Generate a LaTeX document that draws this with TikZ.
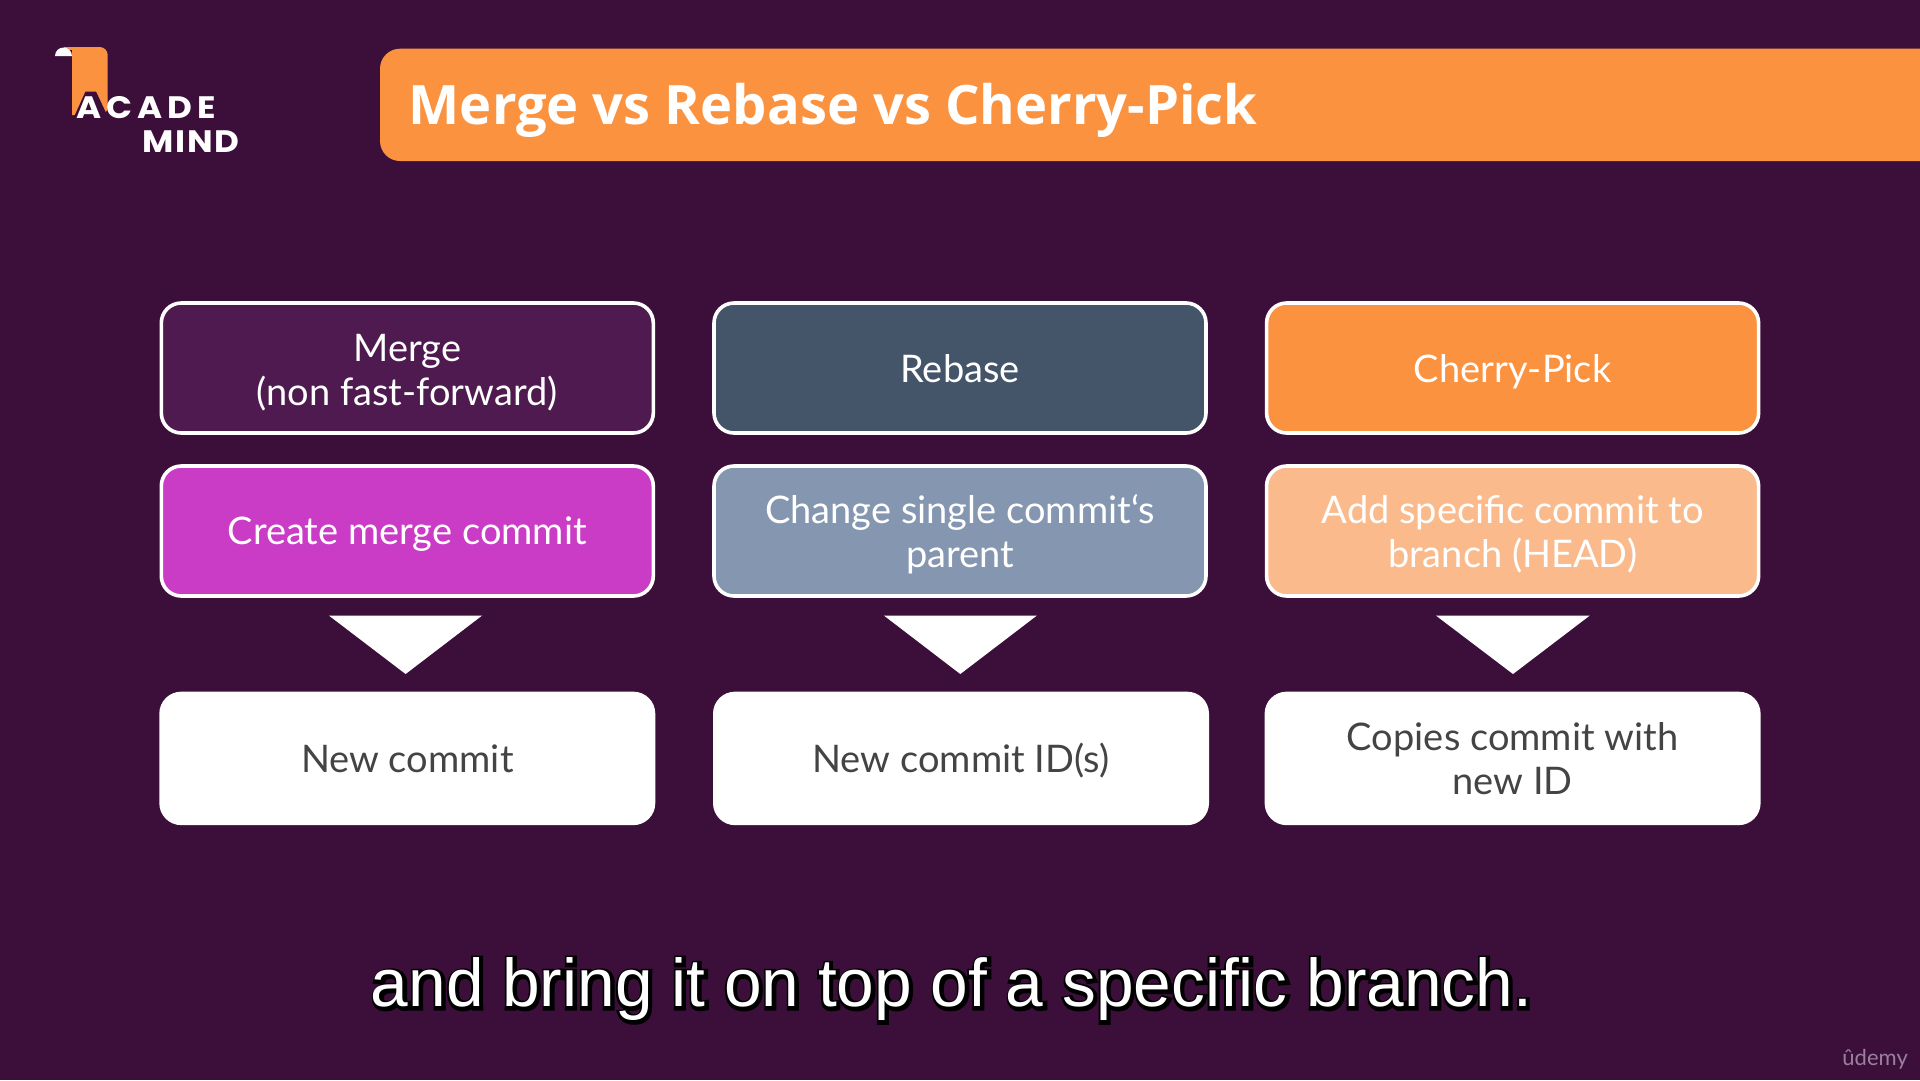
\documentclass[tikz,border=0pt]{standalone}
\usepackage{fontspec}
\setmainfont{Lato}
\newfontfamily\titlefont{Open Sans}
\newfontfamily\logofonta[LetterSpace=16,FakeStretch=1.1]{Poppins}
\newfontfamily\logofontb[LetterSpace=6,FakeStretch=1.1]{Poppins}
\newfontfamily\subfont{Liberation Sans}
\definecolor{bgc}{HTML}{3C0F3B}
\definecolor{orangec}{HTML}{FB923F}
\definecolor{mergec}{HTML}{4E1A50}
\definecolor{magc}{HTML}{CA3CC5}
\definecolor{slatec}{HTML}{455569}
\definecolor{bluec}{HTML}{8496B0}
\definecolor{peachc}{HTML}{FBBA8B}
\definecolor{txtc}{HTML}{444444}
\definecolor{udc}{HTML}{9A7F9E}
\newcommand{\outlined}[1]{\rlap{\kern1pt\raisebox{-1pt}{\special{pdf:code q 6 w 0 0 0 RG 0 0 0 rg 2 Tr}\color{black}#1\special{pdf:code Q}}}#1}
\tikzset{
 x=1pt,y=-1pt,
 vstrut/.style={execute at begin node={\rule[-8pt]{0pt}{\dimexpr#1pt+8pt\relax}}},
 card/.style={draw=white,line width=3.6pt,rounded corners=20pt,minimum width=492pt,minimum height=130pt,inner sep=0pt,align=center,text=white,font=\fontsize{38}{43.5}\selectfont,vstrut=35.4},
 toprow/.style={vstrut=37.4},
 twolines/.style={vstrut=80},
 result/.style={fill=white,rounded corners=22pt,minimum width=496pt,minimum height=133.5pt,inner sep=0pt,align=center,text=txtc,font=\fontsize{38}{43.5}\selectfont,vstrut=35.4},
}
\begin{document}
\begin{tikzpicture}
\useasboundingbox (0,0) rectangle (1920,1080);
\fill[bgc] (0,0) rectangle (1920,1080);
% logo
\fill[orangec,rounded corners=8pt] (60,47) -- (107.7,47) -- (107.7,115) [sharp corners] -- (72,115) -- (72,47) -- cycle;
\fill[bgc] (45,47) rectangle (72,60);
\fill[orangec] (64,47) rectangle (72,50);
\fill[white] (55,56) arc[start angle=180,end angle=360,x radius=8.5,y radius=8.5] -- cycle;
\fill[bgc] (74,117) -- (85.5,91.5) -- (96,91.5) -- (108,117) -- cycle;
\node[anchor=base west,inner sep=0pt,text=white,font=\logofonta\fontsize{31}{31}\selectfont\bfseries] (logoa) at (76,118) {ACADE};
\node[anchor=base west,inner sep=0pt,text=white,font=\logofontb\fontsize{31}{31}\selectfont\bfseries] (logob) at (142,152) {MIND};
% banner
\fill[orangec,rounded corners=20pt] (1960,48.7) -- (380,48.7) -- (380,161) -- (1960,161) -- cycle;
\node[anchor=base west,inner sep=0pt,text=white,font=\titlefont\fontsize{54.3}{54.3}\selectfont\bfseries] (title) at (408.5,124) {Merge vs Rebase vs Cherry-Pick};
% column 1
\node[card,vstrut=82.5,fill=mergec] (m1) at (407.3,368) {Merge\\(non fast-forward)};
\node[card,fill=magc] (m2) at (407.3,531) {Create merge commit};
\fill[white] (329,615.6) -- (482,615.6) -- (405.6,674) -- cycle;
\node[result] (m3) at (407.3,758.4) {New commit};
% column 2
\node[card,toprow,fill=slatec] (r1) at (960,368) {Rebase};
\node[card,twolines,fill=bluec] (r2) at (960,531) {Change single commit‘s\\parent};
\fill[white] (884,615.6) -- (1036.8,615.6) -- (960.3,674) -- cycle;
\node[result] (r3) at (961,758.4) {New commit ID(s)};
% column 3
\node[card,toprow,fill=orangec] (c1) at (1512.6,368) {Cherry-Pick};
\node[card,twolines,fill=peachc] (c2) at (1512.6,531) {Add specific commit to\\branch (HEAD)};
\fill[white] (1436,615.6) -- (1589.7,615.6) -- (1513,674) -- cycle;
\node[result,twolines] (c3) at (1512.6,758.4) {Copies commit with\\new ID};
% caption
\node[anchor=base,inner sep=0pt,text=white,font=\subfont\fontsize{67.6}{67.6}\selectfont] (cap) at (951.5,1006.7) {\outlined{and bring it on top of a specific branch.}};
\node[anchor=base east,inner sep=0pt,text=udc,font=\fontsize{22}{22}\selectfont] (ud) at (1908,1065) {ûdemy};
\end{tikzpicture}
\end{document}
